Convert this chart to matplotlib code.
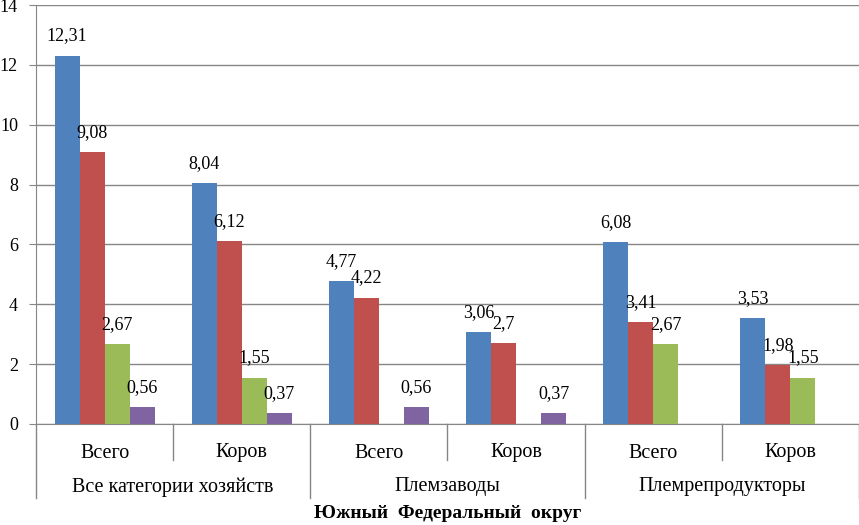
import matplotlib.pyplot as plt
import numpy as np

# groups and sub-categories along the x axis
groups = ['Все категории хозяйств', 'Племзаводы', 'Племрепродукторы']
subcats = ['Всего', 'Коров', 'Всего', 'Коров', 'Всего', 'Коров']

# four series (nan = no bar)
s1 = [12.31, 8.04, 4.77, 3.06, 6.08, 3.53]
s2 = [9.08, 6.12, 4.22, 2.7, 3.41, 1.98]
s3 = [2.67, 1.55, np.nan, np.nan, 2.67, 1.55]
s4 = [0.56, 0.37, 0.56, 0.37, np.nan, np.nan]

series = [s1, s2, s3, s4]
colors = ['#4F81BD', '#C0504D', '#9BBB59', '#8064A2']

plt.rcParams['font.family'] = ['Liberation Serif', 'DejaVu Serif']

fig = plt.figure(figsize=(8.59, 5.25), dpi=100)
ax = fig.add_axes([36 / 859, 101 / 525, 823 / 859, 419 / 525])

x = np.arange(len(subcats))
w = 0.182
for i, (vals, c) in enumerate(zip(series, colors)):
    pos = x + (i - 1.5) * w
    ax.bar(pos, vals, width=w, color=c, zorder=3)
    for p, v in zip(pos, vals):
        if np.isnan(v):
            continue
        lab = ('%g' % v).replace('.', ',')
        ax.annotate(lab, (p, v), xytext=(0, 8), textcoords='offset points',
                    ha='center', va='bottom', fontsize=13)

ax.set_xlim(-0.5, len(subcats) - 0.5)
ax.set_ylim(0, 14)
ax.set_yticks(range(0, 15, 2))
ax.tick_params(axis='y', labelsize=13, length=5, color='#868686', pad=8)
ax.tick_params(axis='x', bottom=False, labelbottom=False)
ax.yaxis.grid(True, color='#868686', linewidth=1, zorder=0)
for s in ['top', 'right']:
    ax.spines[s].set_visible(False)
ax.spines['left'].set_color('#868686')
ax.spines['bottom'].set_color('#868686')

# two-level category axis
h = 419.0
for i, name in enumerate(subcats):
    ax.text(i, -29 / h, name, transform=ax.get_xaxis_transform(),
            ha='center', va='center', fontsize=14.5)
for j, name in enumerate(groups):
    ax.text(2 * j + 0.5, -63 / h, name, transform=ax.get_xaxis_transform(),
            ha='center', va='center', fontsize=14.5)
for k in range(len(subcats) + 1):
    xs = k - 0.5
    low = -74 / h if k % 2 == 0 else -36 / h
    ax.plot([xs, xs], [0, low], transform=ax.get_xaxis_transform(),
            color='#868686', linewidth=1, clip_on=False)

ax.text(0.5, -89 / h, 'Южный  Федеральный  округ', transform=ax.transAxes,
        ha='center', va='center', fontsize=14, fontweight='bold')

fig.savefig('out.png', dpi=100)
